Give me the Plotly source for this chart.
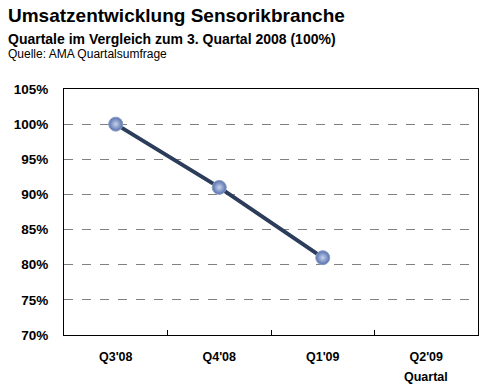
import plotly.graph_objects as go

quarters = ["Q3'08", "Q4'08", "Q1'09", "Q2'09"]
values = [100, 91, 81, None]
y_ticks = [70, 75, 80, 85, 90, 95, 100, 105]

FONT = "Liberation Sans, Arial, sans-serif"

fig = go.Figure()
fig.add_trace(go.Scatter(
    x=quarters, y=values, mode="lines+markers",
    line=dict(color="#2b3d5a", width=4),
    marker=dict(size=14, color="#5570ad",
                gradient=dict(type="radial", color="#c6d2ec"),
                line=dict(color="#8a9dc4", width=1)),
    connectgaps=False, showlegend=False,
))

fig.update_layout(
    width=500, height=390,
    margin=dict(l=64, r=22, t=89, b=55),
    paper_bgcolor="white", plot_bgcolor="white",
    font=dict(family=FONT, color="black"),
)
fig.update_xaxes(
    type="category", categoryorder="array", categoryarray=quarters,
    range=[-0.5, 3.5], tickson="boundaries", ticks="inside", ticklen=5,
    tickcolor="black", showline=True, linecolor="black", linewidth=1, mirror=True,
    showgrid=False, tickfont=dict(size=12.5, family=FONT, weight="bold"),
    ticklabelstandoff=10,
)
fig.update_yaxes(
    range=[70, 105], tickvals=y_ticks, ticktext=[f"{v}%" for v in y_ticks],
    showline=True, linecolor="black", linewidth=1, mirror=True,
    showgrid=True, gridcolor="#808080", griddash="dash", gridwidth=1,
    zeroline=False, ticks="", tickfont=dict(size=13.5, family=FONT, weight="bold"),
    ticklabelstandoff=12,
)

fig.add_annotation(text="<b>Umsatzentwicklung Sensorikbranche</b>", xref="paper", yref="paper",
                   x=0, y=1, xanchor="left", yanchor="top", showarrow=False,
                   font=dict(size=19, family=FONT), xshift=-58, yshift=86)
fig.add_annotation(text="<b>Quartale im Vergleich zum 3. Quartal 2008 (100%)</b>", xref="paper", yref="paper",
                   x=0, y=1, xanchor="left", yanchor="top", showarrow=False,
                   font=dict(size=14, family=FONT), xshift=-58, yshift=60)
fig.add_annotation(text="Quelle: AMA Quartalsumfrage", xref="paper", yref="paper",
                   x=0, y=1, xanchor="left", yanchor="top", showarrow=False,
                   font=dict(size=12, family=FONT), xshift=-58, yshift=44)
fig.add_annotation(text="<b>Quartal</b>", xref="x", yref="paper",
                   x=3, y=0, xanchor="center", yanchor="top", showarrow=False,
                   font=dict(size=12.5, family=FONT), yshift=-33)

fig.write_html("out.html")
